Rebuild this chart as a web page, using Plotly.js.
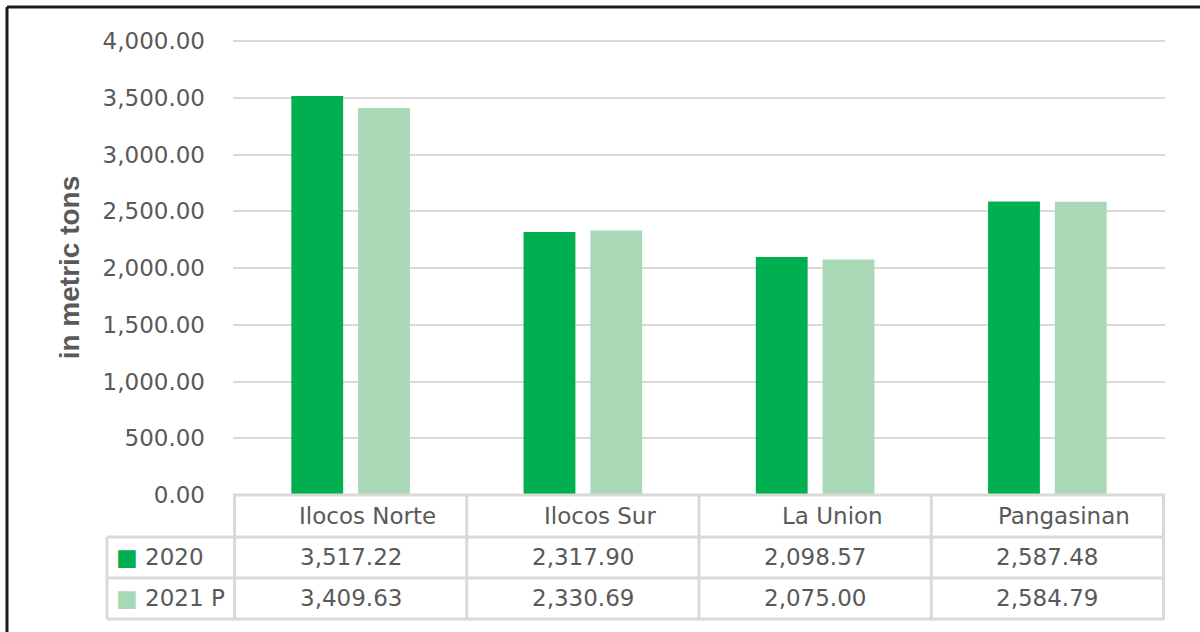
<!DOCTYPE html>
<html>
<head>
<meta charset="utf-8">
<script src="https://cdn.plot.ly/plotly-3.0.1.min.js"></script>
<style>
  html, body { margin: 0; padding: 0; background: #ffffff; }
  #chart { width: 1200px; height: 632px; }
</style>
</head>
<body>
<div id="chart"></div>
<script>
// ---- data ----
const regions = ["Ilocos Norte", "Ilocos Sur", "La Union", "Pangasinan"];
const seriesNames = ["2020", "2021 P"];
const values2020 = [3517.22, 2317.90, 2098.57, 2587.48];
const values2021P = [3409.63, 2330.69, 2075.00, 2584.79];
const yAxisTitle = "in metric tons";

// ---- style ----
const colors = ["#00b050", "#a9d8b6"];
const textColor = "#595959";
const lineColor = "#d9d9d9";
const fontFam = "DejaVu Sans";

// plot area in pixels
const L = 233, R = 1165, T = 40, B = 495;
const W = 1200, H = 632;
const px2x = px => (px - L) / (R - L);
const px2y = py => (B - py) / (B - T);

const fmt = v => v.toLocaleString('en-US', {minimumFractionDigits: 2, maximumFractionDigits: 2});

const seriesValues = [values2020, values2021P];

const traces = seriesNames.map((name, i) => ({
  type: 'bar',
  name: name,
  x: regions,
  y: seriesValues[i],
  marker: {color: colors[i], line: {width: 0}},
  showlegend: false,
  hoverinfo: 'x+y+name'
}));

const shapes = [];
const lineStyle = {color: lineColor, width: 3};
// table horizontal lines
shapes.push({type: 'line', xref: 'paper', yref: 'paper', x0: 0, x1: 1, y0: px2y(495), y1: px2y(495), line: lineStyle});
[537, 578, 619].forEach(py => {
  shapes.push({type: 'line', xref: 'paper', yref: 'paper', x0: px2x(107), x1: 1, y0: px2y(py), y1: px2y(py), line: lineStyle});
});
// table vertical lines at category boundaries
for (let k = 0; k <= regions.length; k++) {
  shapes.push({type: 'line', xref: 'x', yref: 'paper', x0: k - 0.5, x1: k - 0.5, y0: px2y(495), y1: px2y(619), line: lineStyle});
}
// left legend column line
shapes.push({type: 'line', xref: 'paper', yref: 'paper', x0: px2x(107), x1: px2x(107), y0: px2y(537), y1: px2y(619), line: lineStyle});
// outer frame (top + left)
const frame = {color: '#1a1a1a', width: 3};
shapes.push({type: 'line', xref: 'paper', yref: 'paper', x0: px2x(7), x1: px2x(1205), y0: px2y(7), y1: px2y(7), line: frame});
shapes.push({type: 'line', xref: 'paper', yref: 'paper', x0: px2x(7), x1: px2x(7), y0: px2y(7), y1: px2y(640), line: frame});

const annotations = [];
const tFont = {family: fontFam, size: 23, color: textColor};
regions.forEach((r, i) => {
  annotations.push({xref: 'x', yref: 'paper', x: i, y: px2y(516), text: r, showarrow: false, xanchor: 'center', yanchor: 'middle', xshift: 17, font: tFont});
  seriesValues.forEach((vals, s) => {
    annotations.push({xref: 'x', yref: 'paper', x: i, y: px2y(s === 0 ? 557 : 598), text: fmt(vals[i]), showarrow: false, xanchor: 'center', yanchor: 'middle', font: tFont});
  });
});
seriesNames.forEach((name, s) => {
  annotations.push({
    xref: 'paper', yref: 'paper', x: px2x(114), y: px2y(s === 0 ? 557 : 598),
    text: '<span style="color:' + colors[s] + '">■</span> ' + name,
    showarrow: false, xanchor: 'left', yanchor: 'middle', font: tFont
  });
});

const layout = {
  width: W, height: H,
  margin: {l: L, r: W - R, t: T, b: H - B, pad: 0},
  paper_bgcolor: '#ffffff',
  plot_bgcolor: '#ffffff',
  barmode: 'group',
  bargap: 0.425,
  bargroupgap: 0.224,
  xaxis: {
    type: 'category',
    showticklabels: false,
    showgrid: false,
    zeroline: false,
    showline: false,
    ticks: '',
    fixedrange: true
  },
  yaxis: {
    range: [0, 4010],
    tick0: 0,
    dtick: 500,
    tickformat: ',.2f',
    showgrid: true,
    gridcolor: lineColor,
    gridwidth: 2,
    zeroline: false,
    showline: false,
    ticks: '',
    ticklabelstandoff: 27,
    tickfont: {family: fontFam, size: 23, color: textColor},
    title: {
      text: yAxisTitle,
      standoff: 14,
      font: {family: 'Liberation Sans', size: 28, color: textColor, weight: 'bold'}
    },
    fixedrange: true
  },
  shapes: shapes,
  annotations: annotations,
  showlegend: false
};

Plotly.newPlot('chart', traces, layout, {displayModeBar: false, staticPlot: true});
</script>
</body>
</html>
